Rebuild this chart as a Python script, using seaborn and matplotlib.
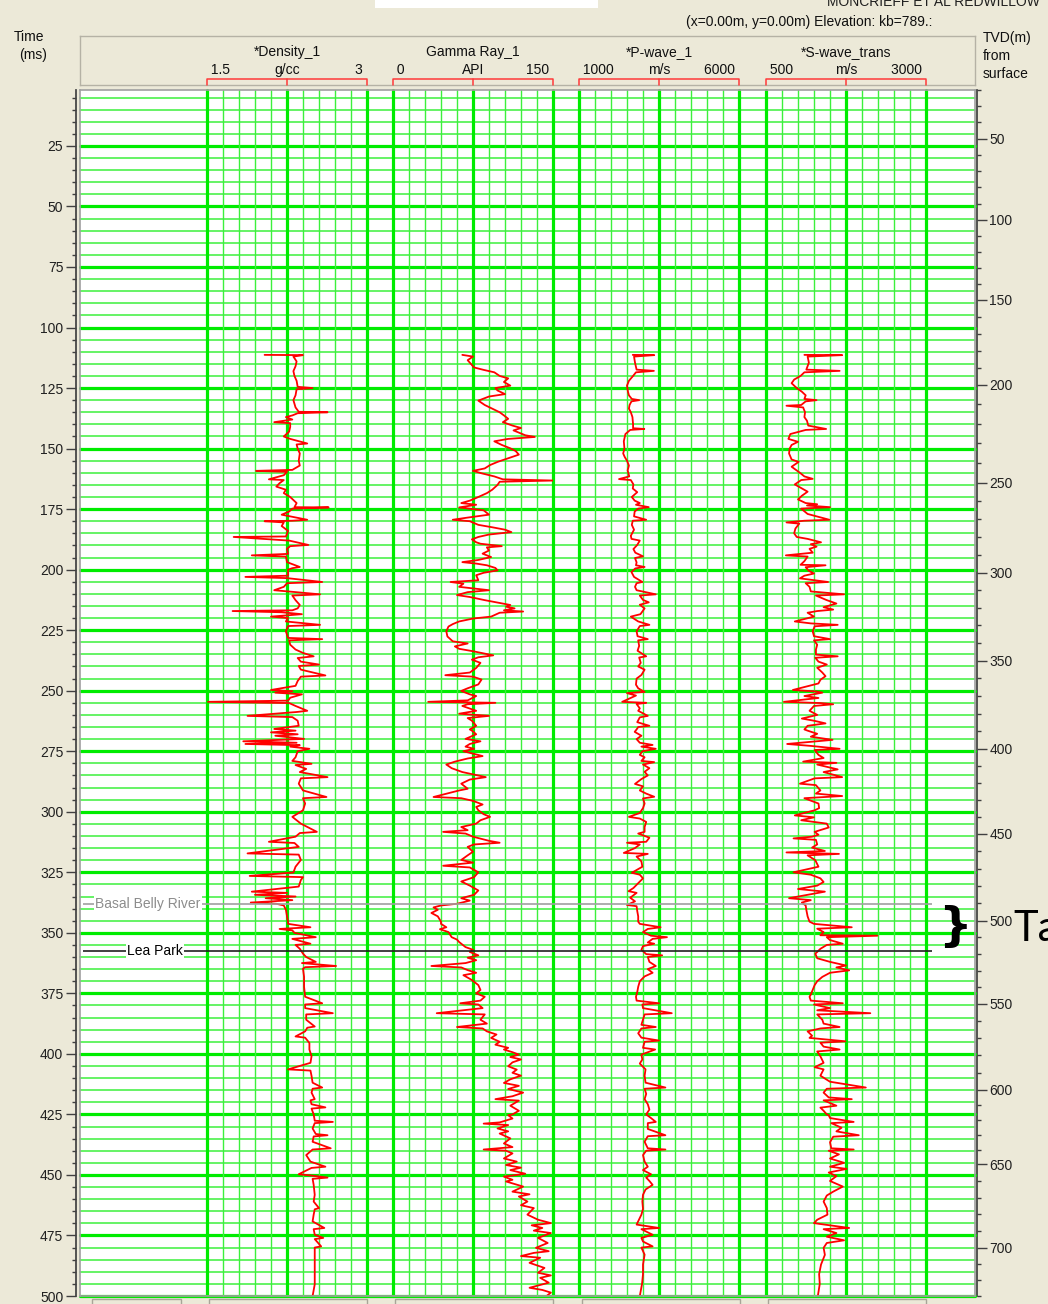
import numpy as np
import pandas as pd
import matplotlib
matplotlib.use("Agg")
import matplotlib.pyplot as plt
from matplotlib.patches import Rectangle
from matplotlib.ticker import MultipleLocator, FixedLocator
import seaborn as sns

# --- log curves: (two-way time ms, value) ---
den_log = [
    (111.3, 2.04), (111.4, 2.40), (112.0, 2.31), (114.0, 2.34), (116.0, 2.33), (118.0, 2.31),
    (120.0, 2.32), (122.0, 2.34), (124.5, 2.35), (125.0, 2.49), (125.5, 2.34), (128.0, 2.33),
    (130.0, 2.31), (133.0, 2.33), (134.8, 2.36), (135.0, 2.63), (135.4, 2.35), (136.3, 2.30),
    (137.0, 2.24), (138.0, 2.30), (139.1, 2.13), (139.5, 2.28), (141.0, 2.28), (143.0, 2.27),
    (145.0, 2.22), (146.0, 2.28), (147.9, 2.44), (148.3, 2.34), (150.0, 2.35), (152.0, 2.37),
    (155.0, 2.36), (157.0, 2.37), (158.8, 2.30), (159.2, 1.96), (159.6, 2.25), (161.0, 2.22),
    (162.7, 2.08), (163.0, 2.22), (164.3, 2.18), (165.7, 2.15), (167.0, 2.24), (168.4, 2.22),
    (170.0, 2.28), (172.5, 2.34), (174.2, 2.32), (174.3, 2.64), (174.8, 2.30), (176.0, 2.27),
    (177.3, 2.20), (179.4, 2.44), (179.8, 2.30), (180.0, 2.04), (180.5, 2.22), (182.0, 2.20),
    (184.0, 2.26), (186.3, 2.24), (186.5, 1.75), (188.0, 2.27), (189.8, 2.45), (190.3, 2.28),
    (191.4, 2.25), (193.5, 2.26), (194.1, 1.92), (194.6, 2.24), (196.9, 2.25), (198.9, 2.37),
    (199.4, 2.30), (200.0, 2.26), (202.5, 2.26), (203.0, 1.86), (203.5, 2.25), (205.1, 2.58),
    (205.6, 2.25), (207.1, 2.22), (208.5, 2.13), (209.0, 2.26), (210.2, 2.56), (210.7, 2.30),
    (212.6, 2.33), (214.6, 2.37), (216.0, 2.35), (216.8, 2.30), (217.1, 1.74), (217.6, 2.20),
    (218.4, 2.39), (219.4, 2.10), (220.0, 2.26), (221.4, 2.24), (222.8, 2.56), (223.3, 2.26),
    (225.5, 2.24), (228.2, 2.26), (228.7, 2.58), (229.2, 2.27), (231.0, 2.28), (233.0, 2.33),
    (234.4, 2.40), (235.8, 2.50), (236.5, 2.35), (238.0, 2.38), (239.2, 2.55), (239.8, 2.36),
    (241.3, 2.38), (243.7, 2.61), (244.2, 2.38), (246.0, 2.35), (248.0, 2.33), (249.7, 2.10),
    (250.2, 2.30), (250.8, 2.14), (251.5, 2.39), (252.9, 2.28), (254.1, 2.26), (254.6, 1.51),
    (255.1, 2.27), (256.3, 2.33), (258.3, 2.44), (258.8, 2.34), (260.4, 1.88), (260.9, 2.30),
    (262.4, 2.35), (264.5, 2.36), (265.8, 2.13), (266.5, 2.33), (267.2, 2.10), (268.0, 2.35),
    (268.6, 2.14), (269.9, 2.41), (270.9, 1.84), (271.5, 2.34), (272.0, 1.86), (272.5, 2.37),
    (273.1, 2.28), (274.0, 2.46), (275.0, 2.35), (277.5, 2.33), (279.0, 2.30), (280.2, 2.48),
    (280.7, 2.33), (282.3, 2.43), (283.6, 2.37), (285.7, 2.63), (286.2, 2.38), (288.4, 2.36),
    (291.2, 2.40), (293.9, 2.62), (294.4, 2.40), (296.6, 2.42), (299.4, 2.40), (302.1, 2.30),
    (304.9, 2.38), (308.3, 2.53), (308.8, 2.37), (310.3, 2.33), (312.4, 2.08), (312.9, 2.32),
    (314.5, 2.36), (317.2, 1.88), (317.7, 2.36), (319.9, 2.38), (322.7, 2.33), (325.1, 2.31),
    (326.5, 1.90), (327.0, 2.40), (328.2, 2.38), (330.9, 2.36), (333.0, 1.92), (333.5, 2.25),
    (334.3, 1.95), (335.0, 2.33), (335.7, 2.05), (336.5, 2.30), (337.5, 1.91), (338.0, 2.15),
    (338.7, 2.22), (340.5, 2.24), (343.2, 2.25), (345.4, 2.26), (346.3, 2.26), (347.7, 2.47),
    (348.4, 2.18), (349.0, 2.30), (350.0, 2.32), (351.8, 2.52), (352.5, 2.30), (354.5, 2.47),
    (355.0, 2.33), (356.6, 2.37), (358.6, 2.40), (360.0, 2.43), (362.0, 2.52), (362.5, 2.39),
    (363.7, 2.71), (364.2, 2.42), (364.8, 2.40), (368.2, 2.41), (372.3, 2.41), (376.4, 2.42),
    (379.1, 2.58), (379.6, 2.42), (381.1, 2.42), (383.2, 2.68), (383.7, 2.43), (385.9, 2.43),
    (388.7, 2.51), (389.2, 2.44), (390.7, 2.42), (392.8, 2.33), (393.3, 2.42), (395.5, 2.46),
    (398.2, 2.46), (401.0, 2.48), (403.7, 2.47), (406.4, 2.26), (406.9, 2.47), (409.1, 2.48),
    (411.9, 2.49), (413.9, 2.58), (414.4, 2.49), (416.0, 2.48), (418.7, 2.51), (419.2, 2.47),
    (420.8, 2.48), (422.1, 2.61), (422.6, 2.48), (425.0, 2.50), (427.6, 2.51), (428.1, 2.68),
    (428.6, 2.51), (430.8, 2.49), (433.1, 2.52), (433.6, 2.63), (434.1, 2.50), (436.3, 2.49),
    (439.0, 2.66), (439.5, 2.49), (441.8, 2.43), (444.5, 2.47), (446.6, 2.61), (447.1, 2.48),
    (449.7, 2.36), (450.2, 2.47), (451.1, 2.63), (451.6, 2.49), (454.1, 2.50), (458.2, 2.51),
    (461.0, 2.50), (463.7, 2.55), (464.2, 2.51), (466.4, 2.50), (469.2, 2.49), (471.9, 2.60),
    (472.4, 2.50), (474.7, 2.51), (476.0, 2.59), (476.5, 2.51), (479.5, 2.57), (480.0, 2.51),
    (482.9, 2.51), (487.0, 2.51), (491.1, 2.51), (495.2, 2.51), (500.0, 2.49),
]

gr_log = [
    (111.3, 65), (112.0, 75), (113.5, 70), (115.0, 73), (116.5, 76), (117.5, 85), (118.5, 95),
    (120.0, 100), (121.0, 108), (122.5, 104), (124.0, 110), (125.0, 96), (126.0, 98), (127.5, 105),
    (128.5, 90), (130.2, 80), (132.0, 86), (133.5, 93), (135.0, 100), (136.3, 104), (137.7, 108),
    (139.1, 103), (140.5, 112), (141.5, 120), (142.5, 113), (144.5, 124), (145.2, 133), (146.0, 108),
    (147.0, 95), (148.5, 102), (149.9, 110), (151.0, 115), (152.5, 118), (154.0, 108), (155.5, 98),
    (156.8, 91), (158.2, 86), (159.2, 75), (160.2, 83), (161.5, 95), (162.7, 103), (163.2, 150),
    (163.7, 100), (165.0, 98), (167.0, 93), (168.4, 88), (170.0, 80), (171.5, 72), (172.5, 64),
    (173.2, 78), (174.3, 62), (175.5, 85), (177.3, 90), (178.5, 70), (179.4, 56), (180.0, 72),
    (181.5, 80), (182.5, 93), (183.5, 105), (184.5, 111), (185.5, 90), (186.5, 80), (187.5, 74),
    (188.7, 78), (189.3, 82), (190.3, 102), (190.8, 88), (192.1, 90), (193.4, 84), (194.8, 92),
    (196.0, 80), (196.9, 65), (197.5, 78), (198.2, 88), (199.3, 96), (200.3, 98), (201.3, 85),
    (202.3, 78), (204.4, 80), (205.1, 54), (205.8, 66), (207.1, 62), (208.5, 90), (209.3, 70),
    (210.5, 60), (211.3, 72), (212.6, 86), (213.6, 98), (214.6, 110), (215.3, 106), (216.0, 114),
    (216.8, 104), (217.3, 122), (217.8, 100), (219.4, 92), (220.2, 75), (221.4, 62), (222.5, 56),
    (223.5, 52), (225.5, 50), (227.6, 51), (229.6, 56), (230.5, 70), (231.7, 58), (232.7, 62),
    (233.7, 75), (235.4, 94), (236.2, 80), (237.2, 74), (238.5, 82), (240.6, 78), (242.5, 72),
    (243.6, 49), (244.2, 75), (245.4, 83), (247.4, 80), (249.0, 70), (250.1, 64), (251.5, 72),
    (252.2, 78), (254.0, 70), (254.6, 33), (255.0, 96), (255.6, 70), (256.3, 65), (258.3, 78),
    (259.5, 62), (260.4, 90), (261.3, 70), (262.4, 74), (264.5, 78), (266.0, 72), (266.5, 74),
    (268.0, 78), (269.9, 68), (270.9, 82), (272.0, 72), (273.1, 68), (274.0, 76), (275.0, 66),
    (277.0, 84), (278.0, 70), (279.3, 58), (280.5, 50), (282.0, 55), (283.6, 65), (285.7, 87),
    (286.7, 72), (288.4, 64), (290.5, 70), (291.2, 62), (293.9, 38), (294.4, 64), (295.5, 75),
    (297.0, 84), (298.0, 78), (299.4, 80), (301.0, 85), (302.1, 91), (303.5, 82), (304.9, 78),
    (306.3, 64), (307.6, 70), (308.3, 47), (309.0, 68), (310.3, 75), (312.0, 90), (312.8, 100),
    (313.5, 76), (314.5, 70), (316.5, 75), (318.0, 70), (319.9, 64), (321.0, 75), (322.3, 47),
    (323.0, 72), (325.0, 80), (327.0, 76), (328.8, 64), (330.5, 72), (332.5, 80), (334.3, 76),
    (335.7, 64), (336.7, 72), (338.0, 60), (338.7, 45), (339.5, 38), (340.5, 42), (341.8, 36),
    (343.2, 42), (345.4, 45), (346.3, 45), (347.7, 50), (348.5, 44), (349.7, 52), (351.8, 55),
    (352.8, 60), (353.8, 62), (355.9, 68), (357.0, 75), (357.9, 72), (359.3, 80), (360.3, 70),
    (361.3, 78), (362.5, 68), (363.7, 36), (364.3, 64), (365.4, 70), (366.5, 78), (367.5, 66),
    (369.5, 74), (371.6, 80), (373.6, 82), (375.0, 78), (376.4, 86), (378.0, 82), (379.1, 63),
    (379.6, 80), (381.1, 84), (383.2, 41), (383.7, 86), (385.9, 82), (387.5, 88), (388.9, 60),
    (389.5, 84), (390.7, 88), (392.0, 97), (393.4, 92), (395.0, 100), (396.2, 96), (397.5, 108),
    (398.2, 104), (399.3, 112), (400.3, 118), (401.3, 110), (402.3, 120), (403.5, 112), (405.1, 108),
    (406.5, 116), (407.8, 112), (409.0, 120), (410.5, 110), (412.0, 104), (413.2, 118), (414.5, 108),
    (416.0, 122), (417.5, 112), (418.7, 96), (419.3, 118), (421.4, 110), (423.5, 118), (425.0, 112),
    (425.3, 108), (426.7, 112), (428.3, 100), (428.8, 85), (429.4, 108), (430.8, 98), (432.0, 108),
    (432.9, 100), (434.9, 110), (437.0, 104), (438.5, 112), (439.5, 85), (440.0, 106), (441.1, 112),
    (443.2, 104), (444.5, 116), (445.9, 106), (447.0, 120), (448.0, 110), (449.5, 124), (450.7, 104),
    (452.0, 112), (452.7, 106), (454.8, 122), (456.9, 112), (458.0, 128), (458.9, 118), (461.0, 126),
    (462.5, 120), (463.7, 132), (466.4, 126), (468.5, 136), (469.9, 148), (470.8, 130), (471.9, 140),
    (473.0, 132), (474.0, 148), (476.0, 136), (478.1, 145), (480.1, 134), (481.5, 146), (482.2, 132),
    (483.5, 120), (484.2, 138), (486.3, 128), (488.4, 142), (490.4, 136), (491.5, 148), (492.5, 138),
    (494.5, 146), (496.6, 128), (497.5, 140), (498.6, 148), (500.0, 144),
]

vp_log = [
    (111.3, 2680), (111.4, 3350), (112.0, 2720), (114.5, 2750), (117.4, 2800), (117.9, 3340),
    (118.5, 2780), (120.0, 2690), (122.0, 2560), (124.0, 2500), (126.5, 2530), (128.0, 2560),
    (129.5, 2650), (130.0, 2880), (130.5, 2640), (132.0, 2580), (133.5, 2560), (135.0, 2620),
    (137.0, 2670), (140.0, 2690), (141.6, 2690), (141.9, 3040), (142.3, 2600), (144.0, 2450),
    (147.0, 2400), (150.0, 2420), (152.0, 2380), (153.5, 2430), (155.0, 2500), (157.0, 2560),
    (159.0, 2520), (161.5, 2570), (162.6, 2250), (163.0, 2620), (164.8, 2700), (166.5, 2680),
    (168.0, 2820), (170.0, 2650), (171.5, 2740), (172.5, 2900), (173.2, 2780), (174.2, 3180),
    (174.8, 2850), (176.0, 2740), (178.0, 2720), (179.4, 3100), (179.8, 2680), (181.5, 2650),
    (183.5, 2720), (186.0, 2620), (187.3, 2640), (188.0, 2900), (189.8, 2820), (191.5, 2700),
    (193.0, 2760), (194.5, 3000), (195.2, 2750), (197.0, 2800), (198.2, 2780), (198.9, 3050),
    (199.5, 2760), (201.0, 2640), (203.0, 2720), (205.1, 2980), (205.6, 2800), (207.1, 2750),
    (208.5, 2800), (210.2, 3400), (210.7, 2900), (212.5, 3000), (213.5, 3180), (214.5, 2900),
    (216.0, 3050), (218.4, 2920), (219.4, 2620), (221.4, 2850), (222.8, 3200), (223.3, 2900),
    (225.5, 2800), (227.5, 2830), (228.7, 3150), (229.2, 2850), (231.5, 2880), (233.5, 2830),
    (235.8, 3100), (236.3, 2880), (238.5, 2930), (240.0, 2850), (241.3, 3050), (243.5, 2950),
    (245.0, 2800), (247.5, 2780), (249.0, 2850), (250.5, 3050), (251.0, 2500), (252.0, 2780),
    (254.6, 2350), (255.0, 3100), (255.5, 2800), (257.3, 2900), (258.3, 2850), (260.4, 3150),
    (261.0, 2900), (263.0, 2820), (264.5, 3200), (265.0, 2850), (266.0, 2800), (267.0, 2740),
    (268.6, 2950), (270.0, 2800), (271.5, 2900), (272.4, 3300), (273.1, 2950), (274.0, 3400),
    (275.0, 2980), (276.5, 2900), (277.5, 3050), (279.0, 2950), (279.5, 3350), (280.5, 3000),
    (282.0, 3200), (283.5, 3050), (285.0, 3150), (286.5, 2950), (288.5, 2750), (289.5, 3000),
    (291.2, 2900), (292.5, 3100), (293.8, 3350), (294.5, 3000), (296.6, 3050), (298.5, 3000),
    (300.5, 2900), (302.1, 2560), (302.8, 2900), (304.2, 3100), (306.3, 3050), (308.3, 3050),
    (309.0, 2850), (310.7, 3200), (312.4, 3100), (312.8, 2500), (313.5, 2900), (315.0, 2750),
    (317.0, 2400), (317.4, 3150), (318.5, 2800), (320.5, 2950), (322.7, 2980), (325.2, 2650),
    (326.0, 2900), (327.5, 3000), (329.5, 2850), (331.5, 2700), (332.8, 2550), (333.5, 2800),
    (335.5, 2600), (337.0, 2750), (338.5, 2500), (339.0, 2800), (341.0, 2820), (343.2, 2850),
    (345.4, 2850), (346.3, 2900), (347.7, 3550), (348.4, 3150), (349.7, 3000), (351.2, 3250),
    (351.8, 3750), (352.5, 3300), (354.0, 3150), (354.5, 3350), (355.5, 3000), (357.0, 2950),
    (358.8, 3100), (359.3, 3600), (360.0, 3150), (362.0, 3200), (363.7, 3400), (365.0, 3150),
    (366.5, 3300), (368.0, 3050), (370.0, 2900), (372.3, 2850), (374.5, 2820), (376.4, 2780),
    (378.0, 2800), (379.1, 3500), (379.6, 2980), (381.1, 3000), (383.2, 3900), (383.7, 3050),
    (385.9, 3000), (388.0, 2950), (388.9, 3400), (389.5, 2950), (391.5, 2850), (393.3, 2950),
    (394.5, 3500), (395.0, 3050), (397.5, 3000), (398.2, 3380), (400.3, 2950), (402.3, 2980),
    (404.0, 2900), (406.4, 3080), (409.0, 3050), (411.9, 3080), (413.9, 3700), (414.4, 3050),
    (416.5, 3100), (418.7, 3050), (420.8, 3150), (423.0, 3200), (425.0, 3100), (426.5, 3250),
    (428.1, 3400), (428.6, 3150), (431.0, 3150), (433.6, 3700), (434.0, 3150), (436.3, 3050),
    (439.0, 3150), (439.5, 3700), (440.0, 3100), (441.8, 3000), (444.5, 3050), (446.6, 3150),
    (448.0, 3000), (449.7, 3250), (451.1, 3100), (452.5, 3200), (454.1, 3300), (456.0, 3080),
    (458.2, 3000), (461.0, 2980), (464.0, 3000), (466.4, 2950), (469.2, 2850), (470.5, 2800),
    (471.9, 3500), (472.4, 2950), (474.7, 3300), (476.0, 2950), (477.5, 3000), (479.5, 3300),
    (480.0, 2950), (482.9, 3050), (487.0, 3000), (491.0, 3000), (495.0, 2970), (500.0, 2900),
]

vs_log = [
    (111.3, 1100), (111.4, 1690), (112.0, 1150), (114.5, 1170), (117.4, 1130), (117.9, 1650),
    (118.5, 1100), (120.0, 1040), (121.5, 940), (123.0, 900), (125.0, 980), (126.5, 1060),
    (128.0, 1120), (129.5, 1100), (130.0, 1290), (130.5, 1120), (132.0, 1050), (132.3, 820),
    (133.0, 1080), (135.0, 1110), (137.0, 1100), (138.5, 1140), (140.5, 1160), (141.9, 1440),
    (142.3, 1120), (144.0, 880), (146.0, 850), (147.2, 1000), (148.5, 900), (150.0, 870),
    (152.0, 860), (154.5, 900), (155.5, 1010), (157.5, 900), (160.0, 1030), (161.5, 1100),
    (162.5, 1230), (163.0, 1050), (164.8, 950), (166.0, 1030), (167.8, 1150), (169.5, 1060),
    (171.0, 1000), (172.5, 1120), (173.0, 1300), (173.5, 1140), (174.2, 1500), (174.8, 1050),
    (177.0, 1150), (179.4, 1490), (179.8, 1100), (180.5, 820), (181.0, 1020), (183.0, 960),
    (185.0, 940), (186.5, 980), (187.3, 1150), (188.7, 1360), (189.5, 1200), (190.5, 1290),
    (191.4, 1180), (193.0, 1230), (194.1, 810), (194.6, 1150), (196.5, 1100), (198.0, 1040),
    (198.2, 1430), (199.0, 1120), (200.5, 1170), (201.6, 1250), (202.5, 1100), (203.6, 1030),
    (205.1, 1470), (205.6, 1120), (207.1, 1180), (209.0, 1200), (210.2, 1720), (210.7, 1280),
    (212.6, 1450), (214.0, 1600), (215.5, 1400), (216.5, 1550), (217.1, 1300), (217.8, 1150),
    (219.4, 1250), (221.4, 950), (222.2, 1200), (222.8, 1620), (223.4, 1260), (225.5, 1230),
    (227.5, 1250), (228.7, 1500), (229.2, 1250), (231.0, 1300), (233.0, 1280), (235.1, 1280),
    (235.8, 1620), (236.4, 1270), (238.0, 1320), (239.2, 1450), (240.5, 1300), (242.5, 1380),
    (244.0, 1430), (245.5, 1350), (247.0, 1320), (249.7, 920), (250.3, 1280), (250.8, 1380),
    (252.2, 1100), (253.0, 1320), (254.6, 780), (255.1, 1350), (255.6, 1550), (256.3, 1250),
    (258.3, 1180), (260.0, 1300), (261.5, 1060), (262.4, 1250), (263.5, 1430), (264.5, 1150),
    (266.0, 1100), (266.5, 1150), (267.8, 1300), (269.0, 1200), (270.3, 1540), (271.0, 1250),
    (272.0, 830), (272.8, 1200), (274.0, 1650), (274.5, 1260), (276.5, 1320), (277.8, 1400),
    (279.3, 1080), (279.8, 1600), (280.5, 1300), (282.5, 1620), (283.6, 1400), (285.7, 1690),
    (286.2, 1260), (288.4, 1030), (289.0, 1280), (291.2, 1350), (292.5, 1280), (293.5, 1690),
    (294.4, 1100), (296.6, 1320), (298.5, 1330), (299.4, 1260), (301.5, 950), (302.3, 1250),
    (303.5, 1050), (304.9, 1450), (306.5, 1480), (308.3, 1260), (309.5, 1320), (310.3, 1220),
    (311.0, 930), (311.6, 1280), (313.5, 1300), (314.8, 1220), (316.2, 1420), (316.8, 820),
    (317.4, 1640), (318.0, 1150), (320.0, 1270), (322.7, 1320), (325.0, 930), (326.0, 1200),
    (327.5, 1350), (329.0, 1400), (330.5, 1300), (331.9, 1000), (333.0, 1420), (334.3, 1150),
    (335.7, 860), (336.5, 1200), (337.5, 1060), (338.7, 1120), (340.5, 1130), (343.2, 1150),
    (345.4, 1180), (346.3, 1250), (347.7, 1840), (348.3, 1300), (349.7, 1400), (351.0, 1350),
    (351.2, 2240), (351.8, 1450), (353.0, 1500), (354.5, 1700), (355.0, 1450), (356.6, 1350),
    (357.9, 1300), (358.6, 1270), (360.5, 1300), (362.0, 1500), (363.5, 1750), (364.3, 1600),
    (365.5, 1800), (366.5, 1500), (368.2, 1380), (370.0, 1300), (371.6, 1260), (373.5, 1230),
    (375.5, 1200), (376.4, 1180), (378.0, 1200), (379.1, 1700), (379.6, 1250), (381.1, 1500),
    (382.0, 1300), (383.2, 2130), (383.7, 1300), (385.9, 1380), (387.5, 1400), (388.9, 1650),
    (389.5, 1350), (390.7, 1150), (392.5, 1220), (393.4, 1180), (394.8, 1740), (395.4, 1350),
    (397.0, 1400), (398.2, 1650), (399.0, 1300), (401.0, 1350), (403.7, 1400), (405.5, 1260),
    (406.4, 1400), (409.0, 1350), (411.5, 1500), (413.9, 2060), (414.4, 1450), (416.0, 1400),
    (418.0, 1480), (418.7, 1840), (419.2, 1400), (421.4, 1600), (422.2, 1350), (423.5, 1400),
    (425.0, 1450), (425.3, 1480), (426.5, 1500), (428.1, 1870), (428.6, 1520), (430.5, 1680),
    (432.0, 1600), (433.6, 1950), (434.2, 1550), (436.5, 1500), (439.0, 1520), (439.5, 1870),
    (440.0, 1480), (441.5, 1640), (443.2, 1500), (445.0, 1720), (446.6, 1500), (447.5, 1760),
    (449.0, 1480), (450.5, 1600), (452.5, 1500), (454.8, 1700), (456.9, 1550), (458.5, 1450),
    (461.0, 1400), (463.7, 1450), (466.4, 1460), (468.5, 1300), (469.9, 1250), (471.9, 1800),
    (472.4, 1400), (474.0, 1600), (475.5, 1450), (477.0, 1720), (478.1, 1450), (480.1, 1400),
    (483.0, 1420), (487.0, 1360), (491.0, 1330), (495.0, 1340), (500.0, 1310),
]

track_names = ["*Density_1", "Gamma Ray_1", "*P-wave_1", "*S-wave_trans"]
track_units = ["g/cc", "API", "m/s", "m/s"]
track_lo = [1.5, 0, 1000, 500]
track_hi = [3, 150, 6000, 3000]
track_lo_txt = ["1.5", "0", "1000", "500"]
track_hi_txt = ["3", "150", "6000", "3000"]
track_logs = [den_log, gr_log, vp_log, vs_log]

# TVD (m) against time (ms) for the right-hand axis
tvd_depth = [20, 50, 100, 150, 200, 250, 300, 350, 400, 450, 500, 550, 600, 650, 700, 730]
tvd_time = [2.6, 22.5, 55.6, 88.2, 122.9, 162.9, 199.7, 235.6, 271.6, 306.3,
            341.8, 375.7, 410.8, 441.3, 475.2, 495.0]
tvd_labels = [50, 100, 150, 200, 250, 300, 350, 400, 450, 500, 550, 600, 650, 700]
tvd_minor = list(range(20, 731, 10))

top_names = ["Basal Belly River", "Lea Park"]
top_times = [338.0, 357.5]
top_colors = ["#A0A0A0", "#202020"]
top_text_colors = ["#8C8C8C", "#000000"]

# --- layout (pixels of the 1048x1304 picture) ---
W, H = 1048, 1304
BG = "#ECE9D8"
G_MAJ = "#00EC00"
G_MIN = "#3CF03C"
T_TOP, T_BOT = 1.9, 500
track_px = [(207, 367), (393, 553), (579, 739), (766, 926)]
top_label_x = [95, 127]

sns.set_theme(style="white")
plt.rcParams["font.family"] = ["Liberation Sans", "DejaVu Sans"]

fig = plt.figure(figsize=(W / 100, H / 100), dpi=100, facecolor=BG)


def box(x0, y0, x1, y1):
    return [x0 / W, 1 - y1 / H, (x1 - x0) / W, (y1 - y0) / H]


def fx(x):
    return x / W


def fy(y):
    return 1 - y / H


# time grid and left time axis
ax = fig.add_axes(box(80, 90, 975, 1296))
ax.set_facecolor("white")
ax.set_xlim(0, 1)
ax.set_ylim(T_BOT, T_TOP)
for t in np.arange(5, T_BOT + 1, 5):
    major = t % 25 == 0
    ax.axhline(t, color=G_MAJ if major else G_MIN, lw=2.3 if major else 1.1,
               clip_on=False, zorder=1)
for s in ["top", "right", "bottom"]:
    ax.spines[s].set_visible(False)
ax.spines["left"].set_position(("outward", 3))
ax.spines["left"].set_color("#404040")
ax.set_xticks([])
ax.yaxis.set_major_locator(MultipleLocator(25))
ax.yaxis.set_minor_locator(MultipleLocator(5))
ax.tick_params(axis="y", which="major", left=True, length=7, width=1,
               color="#404040", labelsize=10, pad=2, labelcolor="#202020")
ax.tick_params(axis="y", which="minor", left=True, length=3, width=1, color="#404040")


def t_to_tvd(t):
    return np.interp(t, tvd_time, tvd_depth)


def tvd_to_t(d):
    return np.interp(d, tvd_depth, tvd_time)


sec = ax.secondary_yaxis(1.002, functions=(t_to_tvd, tvd_to_t))
sec.spines["right"].set_color("#404040")
sec.yaxis.set_major_locator(FixedLocator(tvd_labels))
sec.yaxis.set_minor_locator(FixedLocator(tvd_minor))
sec.tick_params(axis="y", which="major", right=True, length=7, width=1,
                color="#404040", labelsize=10, pad=2, labelcolor="#202020")
sec.tick_params(axis="y", which="minor", right=True, length=3, width=1, color="#404040")

# header panel
hdr = fig.add_axes(box(80, 36, 975, 85))
hdr.set_facecolor(BG)
hdr.set_xticks([])
hdr.set_yticks([])
for s in hdr.spines.values():
    s.set_color("#B5B2A5")
    s.set_linewidth(1)

# tracks
for i in range(4):
    x0, x1 = track_px[i]
    lo, hi = track_lo[i], track_hi[i]
    tax = fig.add_axes(box(x0, 90, x1, 1296))
    tax.patch.set_alpha(0)
    for k, xv in enumerate(np.linspace(lo, hi, 11)):
        major = k % 5 == 0
        tax.axvline(xv, color=G_MAJ if major else G_MIN, lw=2.3 if major else 1.0,
                    clip_on=False, zorder=1)
    df = pd.DataFrame(track_logs[i], columns=["time", "value"])
    sns.lineplot(data=df, x="value", y="time", orient="y", sort=False, estimator=None,
                 color="#FF0000", lw=1.3, ax=tax, zorder=3)
    tax.set_xlim(lo, hi)
    tax.set_ylim(T_BOT, T_TOP)
    tax.axis("off")

    # header texts and red scale bracket
    hax = fig.add_axes(box(x0, 36, x1, 86))
    hax.patch.set_alpha(0)
    hax.set_xlim(lo, hi)
    hax.set_ylim(86, 36)
    hax.axis("off")
    mid = (lo + hi) / 2
    hax.text(mid, 52, track_names[i], ha="center", va="center", fontsize=10, color="#101010")
    hax.text(lo, 70, " " + track_lo_txt[i], ha="left", va="center", fontsize=10, color="#101010")
    hax.text(mid, 70, track_units[i], ha="center", va="center", fontsize=10, color="#101010")
    hax.text(hi, 70, track_hi_txt[i] + " ", ha="right", va="center", fontsize=10, color="#101010")
    hax.plot([lo, lo, hi, hi], [85, 79, 79, 85], color="#FF3A3A", lw=1.1, clip_on=False)
    hax.plot([mid, mid], [79, 85], color="#FF3A3A", lw=1.1, clip_on=False)

# overlay: plot frame + formation tops
ov = fig.add_axes(box(80, 90, 975, 1296))
ov.patch.set_alpha(0)
ov.set_xlim(80, 975)
ov.set_ylim(T_BOT, T_TOP)
ov.set_xticks([])
ov.set_yticks([])
for s in ov.spines.values():
    s.set_color("#A0A0A0")
    s.set_linewidth(1.2)
for name, t, c, tc, lx in zip(top_names, top_times, top_colors, top_text_colors, top_label_x):
    ov.hlines(t, 83, 932, color=c, lw=1.2, zorder=4)
    ov.text(lx, t, name, ha="left", va="center", fontsize=10, color=tc, zorder=5,
            bbox=dict(boxstyle="square,pad=0.1", fc="white", ec="none"))

# loose texts around the display
fig.add_artist(Rectangle((fx(375), fy(8)), fx(598) - fx(375), 8 / H,
                         transform=fig.transFigure, fc="white", ec="none"))
fig.text(fx(1040), fy(2), "MONCRIEFF ET AL REDWILLOW", ha="right", va="center",
         fontsize=10, color="#202020")
fig.text(fx(932), fy(22), "(x=0.00m, y=0.00m) Elevation: kb=789.:", ha="right", va="center",
         fontsize=10, color="#101010")
fig.text(fx(29), fy(37), "Time", ha="center", va="center", fontsize=10, color="#101010")
fig.text(fx(33), fy(55), "(ms)", ha="center", va="center", fontsize=10, color="#101010")
for j, line in enumerate(["TVD(m)", "from", "surface"]):
    fig.text(fx(983), fy(38 + 18 * j), line, ha="left", va="center", fontsize=10, color="#101010")

# footer tabs peeking in at the bottom
for x0, x1 in [(92, 181), (209, 367), (395, 553), (582, 740), (768, 926)]:
    fig.add_artist(Rectangle((fx(x0), fy(1310)), (x1 - x0) / W, 11 / H,
                             transform=fig.transFigure, fc=BG, ec="#A8A598", lw=1))

# brace annotation
fig.text(fx(955), fy(928), "}", ha="center", va="center", fontsize=34,
         fontweight="bold", family=["DejaVu Sans"], color="black")
fig.text(fx(1013), fy(941), "Ta", ha="left", va="baseline", fontsize=30,
         family=["Lato", "DejaVu Sans"], color="black")

fig.savefig("out.png", dpi=100, facecolor=BG)
